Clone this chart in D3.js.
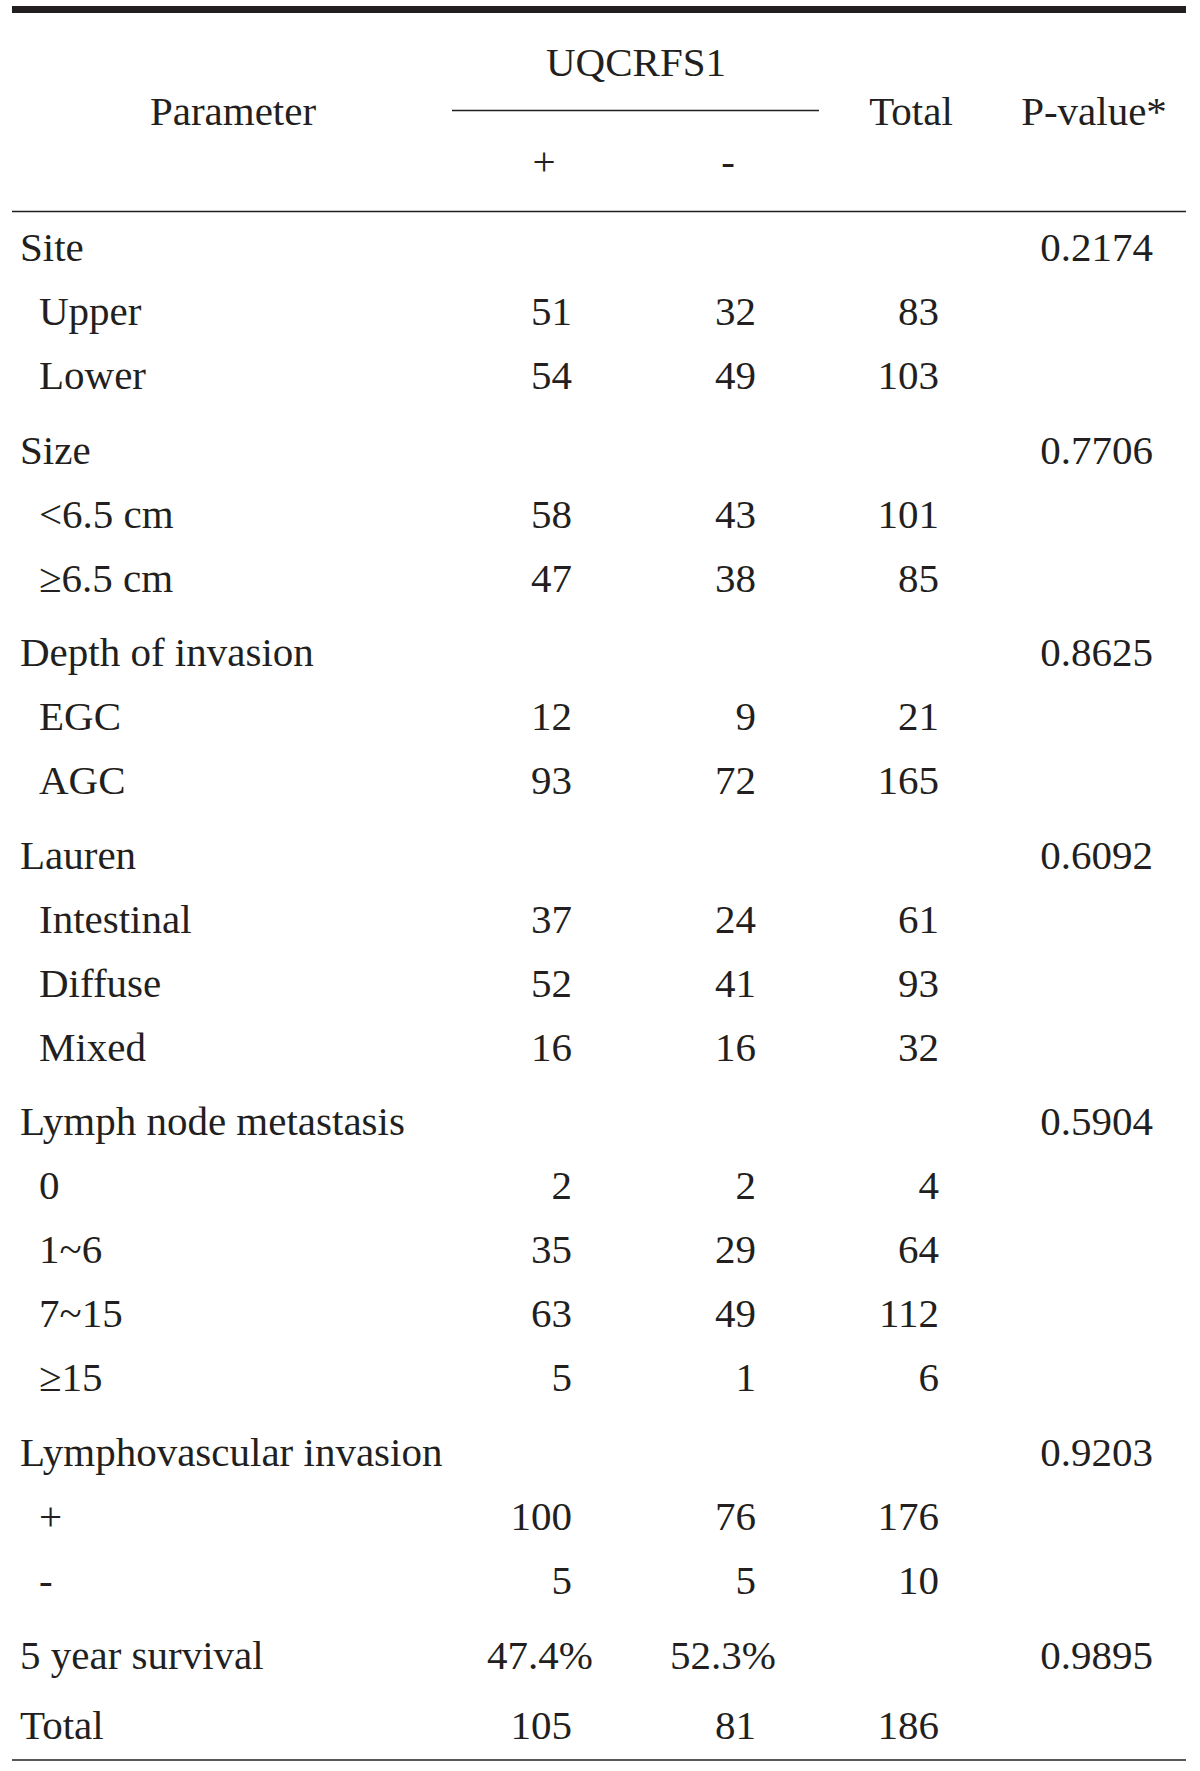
<!DOCTYPE html>
<html>
<head>
<meta charset="utf-8">
<script src="https://cdn.jsdelivr.net/npm/d3@7/dist/d3.min.js"></script>
<style>
  html, body { margin: 0; padding: 0; background: #fff; }
  svg text { font-family: "Liberation Serif", "DejaVu Serif", serif; fill: #231f20; }
</style>
</head>
<body>
<svg id="chart" width="1200" height="1771"></svg>
<script>
// ---- data ----
const headerGroup = "UQCRFS1";
const headerCols = ["Parameter", "+", "-", "Total", "P-value*"];
const rowLabels = ["Site", "Upper", "Lower", "Size", "<6.5 cm", "≥6.5 cm",
  "Depth of invasion", "EGC", "AGC", "Lauren", "Intestinal", "Diffuse", "Mixed",
  "Lymph node metastasis", "0", "1~6", "7~15", "≥15",
  "Lymphovascular invasion", "+", "-", "5 year survival", "Total"];
const rowLevel = [0, 1, 1, 0, 1, 1, 0, 1, 1, 0, 1, 1, 1, 0, 1, 1, 1, 1, 0, 1, 1, 0, 0];
const posValues = ["", "51", "54", "", "58", "47", "", "12", "93", "", "37", "52", "16",
  "", "2", "35", "63", "5", "", "100", "5", "47.4%", "105"];
const negValues = ["", "32", "49", "", "43", "38", "", "9", "72", "", "24", "41", "16",
  "", "2", "29", "49", "1", "", "76", "5", "52.3%", "81"];
const totalValues = ["", "83", "103", "", "101", "85", "", "21", "165", "", "61", "93", "32",
  "", "4", "64", "112", "6", "", "176", "10", "", "186"];
const pValues = ["0.2174", "", "", "0.7706", "", "", "0.8625", "", "", "0.6092", "", "", "",
  "0.5904", "", "", "", "", "0.9203", "", "", "0.9895", ""];

// ---- layout ----
const svg = d3.select("#chart");
const ink = "#231f20";
const fontSize = 41;

// row baselines
const rowY = [];
let y = 261;
rowLabels.forEach((lab, i) => {
  if (i > 0) {
    if (i === rowLabels.length - 1) y += 70;
    else if (i === rowLabels.length - 2) y += 75;
    else y += rowLevel[i] === 0 ? 74.5 : 64;
  }
  rowY.push(y);
});
const yScale = d3.scaleOrdinal().domain(d3.range(rowLabels.length)).range(rowY);

// column right edges for values
const colX = d3.scaleOrdinal().domain(["pos", "neg", "total", "p"]).range([572, 756, 939, 1153]);

// rules
svg.append("rect").attr("x", 12).attr("y", 6).attr("width", 1174).attr("height", 7).attr("fill", ink);
svg.append("line").attr("x1", 452).attr("x2", 819).attr("y1", 110.5).attr("y2", 110.5)
  .attr("stroke", ink).attr("stroke-width", 1.6);
svg.append("line").attr("x1", 12).attr("x2", 1186).attr("y1", 211.5).attr("y2", 211.5)
  .attr("stroke", ink).attr("stroke-width", 1.6);
svg.append("line").attr("x1", 12).attr("x2", 1186).attr("y1", 1760).attr("y2", 1760)
  .attr("stroke", ink).attr("stroke-width", 1.6);

// header
const hdr = svg.append("g").attr("font-size", fontSize);
hdr.append("text").attr("x", 636).attr("y", 76).attr("text-anchor", "middle").text(headerGroup);
const hdrPos = [[233, 125], [544, 175], [728, 175], [911, 125], [1094, 125]];
hdr.selectAll("text.h").data(headerCols).join("text").attr("class", "h")
  .attr("x", (d, i) => hdrPos[i][0]).attr("y", (d, i) => hdrPos[i][1])
  .attr("text-anchor", "middle").text(d => d);

// body
const body = svg.append("g").attr("font-size", fontSize);
body.selectAll("text.lab").data(rowLabels).join("text").attr("class", "lab")
  .attr("x", (d, i) => rowLevel[i] === 0 ? 20 : 39)
  .attr("y", (d, i) => yScale(i)).text(d => d);

function valueCol(arr, key, shift) {
  body.selectAll("text." + key).data(arr).join("text").attr("class", key)
    .attr("x", d => colX(key) + (d.indexOf("%") >= 0 ? shift : 0))
    .attr("y", (d, i) => yScale(i))
    .attr("text-anchor", "end").text(d => d);
}
valueCol(posValues, "pos", 21);
valueCol(negValues, "neg", 20);
valueCol(totalValues, "total", 0);
valueCol(pValues, "p", 0);
</script>
</body>
</html>
